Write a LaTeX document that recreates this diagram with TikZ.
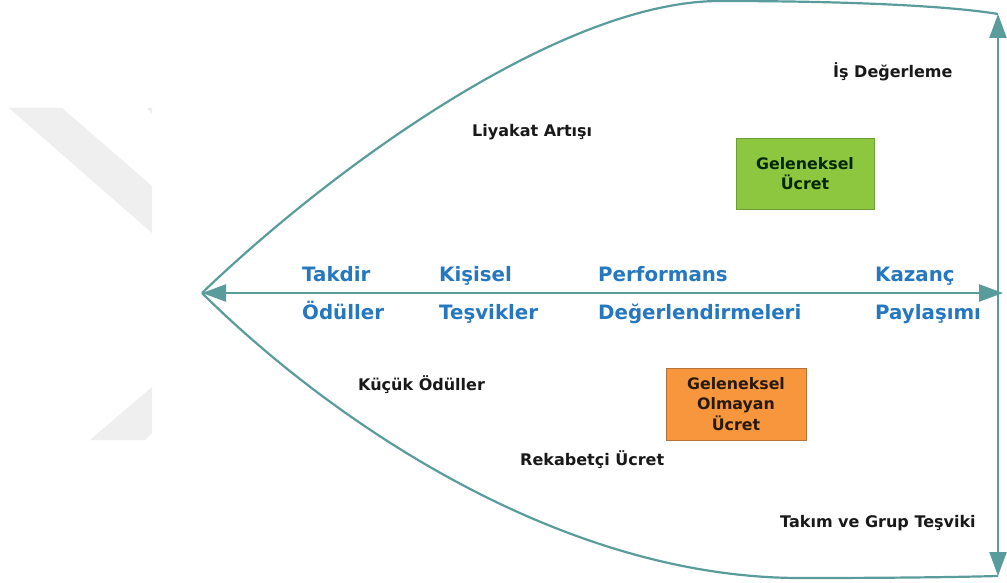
\documentclass[tikz,border=0pt]{standalone}
\usepackage{fontspec}
\setmainfont{DejaVu Sans}
\usetikzlibrary{arrows.meta}

\definecolor{axisteal}{HTML}{5A9C9C}
\definecolor{termblue}{HTML}{2577BF}
\definecolor{markgrey}{HTML}{EFEFEF}
\definecolor{greenfill}{HTML}{8DC63F}
\definecolor{greenedge}{HTML}{6E9E35}
\definecolor{orangefill}{HTML}{F7963C}
\definecolor{orangeedge}{HTML}{B5733A}

\tikzset{
  axisline/.style={draw=axisteal, line width=2.2pt},
  tips/.style={{Triangle[length=24pt,width=17pt]}-{Triangle[length=24pt,width=17pt]}},
  term/.style={anchor=base west, inner sep=0pt, text=termblue,
    font=\fontsize{19.8}{22}\selectfont\bfseries},
  note/.style={anchor=base west, inner sep=0pt, text=black!90,
    font=\fontsize{16}{19}\selectfont\bfseries},
  paybox/.style={draw, line width=0.8pt, align=center, inner sep=0pt,
    font=\fontsize{15.8}{20.5}\selectfont\bfseries}
}

\begin{document}
\begin{tikzpicture}[x=1pt,y=-1pt]
\useasboundingbox (0,0) rectangle (1007,583);
\fill[white] (0,0) rectangle (1007,583);

% faint background band shapes on the left
\fill[markgrey] (9,108) -- (62,108) -- (152,186) -- (152,233) -- cycle;
\fill[markgrey] (147,108) -- (152,108) -- (152,114) -- cycle;
\fill[markgrey] (90,440) -- (145,440) -- (152,433) -- (152,387) -- cycle;

% end points of the axes
\coordinate (apex) at (202,293);
\coordinate (east) at (1003,293);
\coordinate (top) at (998,14);
\coordinate (bottom) at (998,576);

% lens outline
\draw[axisline] (apex) .. controls (330,170) and (560,1) .. (720,1)
  .. controls (850,1) and (950,6) .. (top);
\draw[axisline] (apex) .. controls (330,420) and (560,578) .. (800,578)
  .. controls (900,578) and (960,577) .. (bottom);

% axes
\draw[axisline, tips] (apex) -- (east);
\draw[axisline, tips] (top) -- (bottom);

% terms along the horizontal axis
\node[term] (t1a) at (302,281) {Takdir};
\node[term] (t1b) at (302,319) {Ödüller};
\node[term] (t2a) at (439,281) {Kişisel};
\node[term] (t2b) at (439,319) {Teşvikler};
\node[term] (t3a) at (598,281) {Performans};
\node[term] (t3b) at (598,319) {Değerlendirmeleri};
\node[term] (t4a) at (875,281) {Kazanç};
\node[term] (t4b) at (875,319) {Paylaşımı};

% labels inside the lens
\node[note] (n1) at (833,78) {İş Değerleme};
\node[note] (n2) at (472,137) {Liyakat Artışı};
\node[note] (n3) at (358,390) {Küçük Ödüller};
\node[note] (n4) at (520,465) {Rekabetçi Ücret};
\node[note] (n5) at (780,527) {Takım ve Grup Teşviki};

% pay category boxes
\node[paybox, draw=greenedge, fill=greenfill, text=black!85!green,
  minimum width=138pt, minimum height=71pt] (trad) at (805,173.5)
  {Geleneksel\\Ücret};
\node[paybox, draw=orangeedge, fill=orangefill, text=black!80!brown,
  minimum width=140pt, minimum height=72pt] (nontrad) at (736,404)
  {Geleneksel\\Olmayan\\Ücret};
\end{tikzpicture}
\end{document}
